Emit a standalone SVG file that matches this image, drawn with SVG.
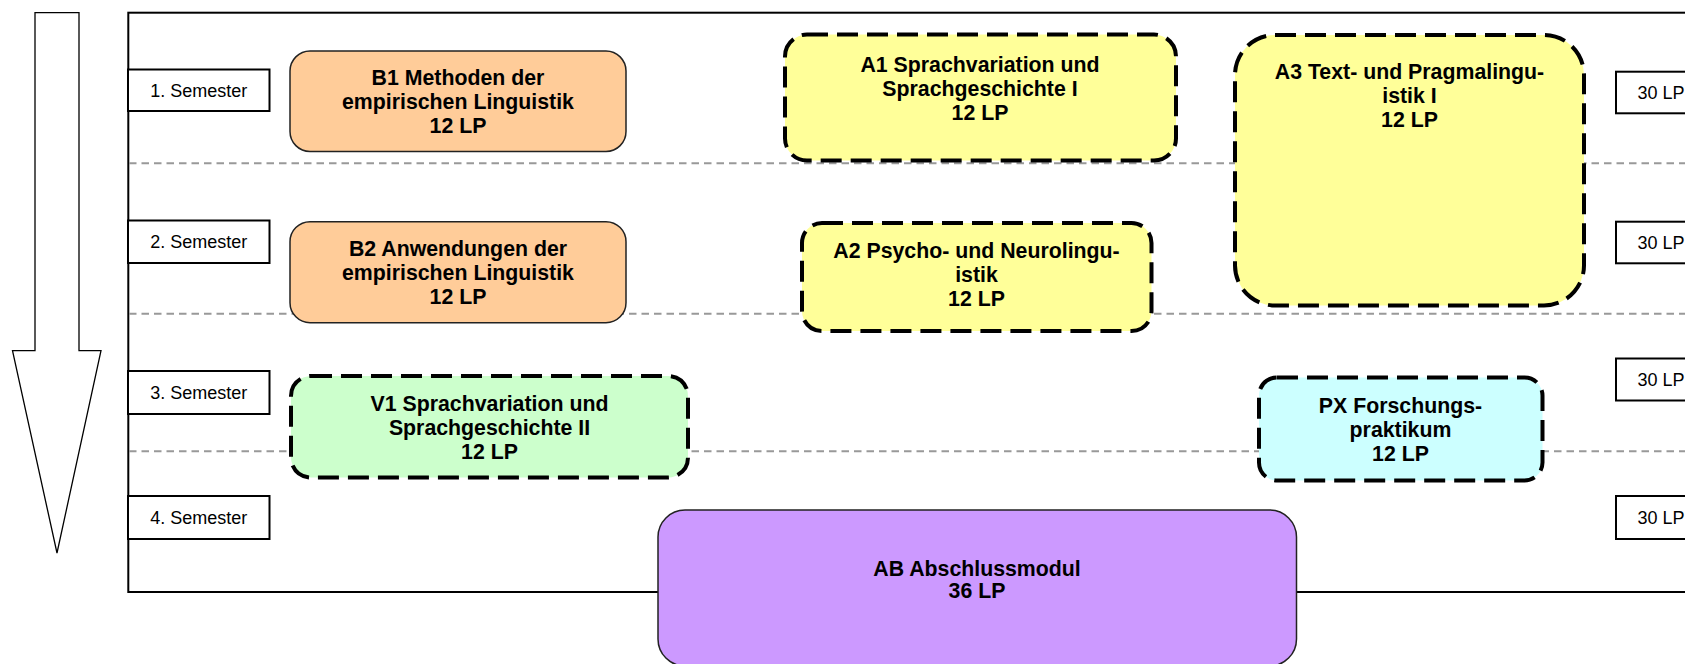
<svg xmlns="http://www.w3.org/2000/svg" width="1685" height="664" viewBox="0 0 1685 664">
<style>
.sem rect{fill:#fff;stroke:#000;stroke-width:2}
.sem text{font-family:"Liberation Sans",Arial,sans-serif;font-size:18px;fill:#000;text-anchor:middle}
.mod text{font-family:"Liberation Sans",Arial,sans-serif;font-size:21.3px;font-weight:bold;fill:#000;text-anchor:middle}
.solid{stroke:#222;stroke-width:1.5}
.dash{stroke:#000;stroke-width:4;stroke-dasharray:21 9}
.grid{stroke:#999;stroke-width:2;stroke-dasharray:7.5 5}
</style>
<rect width="1685" height="664" fill="#fff"/>
<g id="arrow">
<polygon points="35,12.7 79,12.7 79,350.7 101,350.7 57,553 12.5,350.7 35,350.7" fill="#fff" stroke="#000" stroke-width="1.3"/>
</g>
<g id="frame">
<rect x="128.3" y="12.7" width="1620" height="579.3" fill="none" stroke="#000" stroke-width="2"/>
</g>
<g id="connectors">
<line class="grid" x1="129" y1="163.3" x2="1685" y2="163.3"/>
<line class="grid" x1="129" y1="313.8" x2="1685" y2="313.8"/>
<line class="grid" x1="129" y1="451.2" x2="1685" y2="451.2"/>
</g>
<g id="sem1" class="sem"><rect x="128" y="69.5" width="141.5" height="41.5"/><text x="198.7" y="96.7">1. Semester</text></g>
<g id="sem2" class="sem"><rect x="128" y="220.5" width="141.5" height="42.5"/><text x="198.7" y="248">2. Semester</text></g>
<g id="sem3" class="sem"><rect x="128" y="371" width="141.5" height="43"/><text x="198.7" y="399">3. Semester</text></g>
<g id="sem4" class="sem"><rect x="128" y="496" width="141.5" height="43"/><text x="198.7" y="524">4. Semester</text></g>
<g id="lp1" class="sem"><rect x="1616" y="71.7" width="90" height="41.6"/><text x="1661" y="98.5">30 LP</text></g>
<g id="lp2" class="sem"><rect x="1616" y="221.7" width="90" height="41.6"/><text x="1661" y="248.5">30 LP</text></g>
<g id="lp3" class="sem"><rect x="1616" y="358.5" width="90" height="42"/><text x="1661" y="385.5">30 LP</text></g>
<g id="lp4" class="sem"><rect x="1616" y="496" width="90" height="43"/><text x="1661" y="524">30 LP</text></g>
<g id="B1" class="mod"><rect class="solid" x="290" y="51" width="336" height="100.5" rx="20" fill="#FFCC99"/><text x="458" y="85">B1 Methoden der</text><text x="458" y="109">empirischen Linguistik</text><text x="458" y="133">12 LP</text></g>
<g id="B2" class="mod"><rect class="solid" x="290" y="221.7" width="336" height="101" rx="20" fill="#FFCC99"/><text x="458" y="256">B2 Anwendungen der</text><text x="458" y="280">empirischen Linguistik</text><text x="458" y="304">12 LP</text></g>
<g id="A1" class="mod"><rect class="dash" x="785" y="34.5" width="391" height="126" rx="22" fill="#FFFF99"/><text x="980" y="71.5">A1 Sprachvariation und</text><text x="980" y="95.5">Sprachgeschichte I</text><text x="980" y="119.5">12 LP</text></g>
<g id="A2" class="mod"><rect class="dash" x="802" y="223" width="349.5" height="108" rx="20" fill="#FFFF99"/><text x="976.5" y="258">A2 Psycho- und Neurolingu-</text><text x="976.5" y="282">istik</text><text x="976.5" y="306">12 LP</text></g>
<g id="A3" class="mod"><rect class="dash" x="1235" y="35" width="349" height="270.5" rx="40" fill="#FFFF99"/><text x="1409.5" y="78.5">A3 Text- und Pragmalingu-</text><text x="1409.5" y="102.5">istik I</text><text x="1409.5" y="126.5">12 LP</text></g>
<g id="V1" class="mod"><rect class="dash" x="291" y="376" width="397" height="101.5" rx="20" fill="#CCFFCC"/><text x="489.5" y="410.5">V1 Sprachvariation und</text><text x="489.5" y="434.5">Sprachgeschichte II</text><text x="489.5" y="458.5">12 LP</text></g>
<g id="PX" class="mod"><rect class="dash" x="1259" y="377.5" width="283.5" height="103" rx="18" fill="#CCFFFF"/><text x="1400.5" y="412.5">PX Forschungs-</text><text x="1400.5" y="436.5">praktikum</text><text x="1400.5" y="460.5">12 LP</text></g>
<g id="AB" class="mod"><rect class="solid" x="658" y="510" width="638.5" height="156" rx="27" fill="#CC99FF"/><text x="977" y="575.5">AB Abschlussmodul</text><text x="977" y="598">36 LP</text></g>
</svg>
